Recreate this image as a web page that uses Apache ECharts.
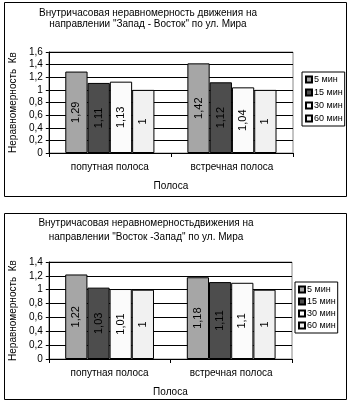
<!DOCTYPE html>
<html><head><meta charset="utf-8">
<script src="https://cdn.jsdelivr.net/npm/echarts@6/dist/echarts.min.js"></script>
<style>html,body{margin:0;padding:0;background:#fff}#c{width:350px;height:406px}</style>
</head><body><div id="c"></div>
<script>
const categories = ['попутная полоса', 'встречная полоса'];
const seriesNames = ['5 мин', '15 мин', '30 мин', '60 мин'];
// Chart 1: Запад - Восток
const c1_5 = [1.29, 1.42];
const c1_15 = [1.11, 1.12];
const c1_30 = [1.13, 1.04];
const c1_60 = [1, 1];
// Chart 2: Восток - Запад
const c2_5 = [1.22, 1.18];
const c2_15 = [1.03, 1.11];
const c2_30 = [1.01, 1.1];
const c2_60 = [1, 1];
const yTicks1 = {min: 0, max: 1.6, interval: 0.2};
const yTicks2 = {min: 0, max: 1.4, interval: 0.2};

const colors = ['#a6a6a6', '#4d4d4d', '#fbfbfb', '#f1f1f1'];
const FONT = 'Liberation Sans, Arial, sans-serif';
const comma = v => String(+(+v).toFixed(2)).replace('.', ',');

function mkSeries(dataArr, gi) {
  return dataArr.map((d, i) => ({
    name: seriesNames[i], type: 'bar', xAxisIndex: gi, yAxisIndex: gi, data: d,
    barGap: '0%', barCategoryGap: '27%',
    itemStyle: {color: colors[i], borderColor: '#000', borderWidth: 1},
    label: {show: true, position: 'inside', rotate: 90, color: '#000', fontSize: 11, fontFamily: FONT,
      formatter: p => comma(p.value)},
    emphasis: {disabled: true}, animation: false
  }));
}
function mkX(gi) {
  return {type: 'category', gridIndex: gi, data: categories,
    axisLine: {lineStyle: {color: '#000'}}, axisTick: {show: true, length: 4, lineStyle: {color: '#000'}},
    axisLabel: {color: '#000', fontSize: 10, fontFamily: FONT, margin: 9},
    name: 'Полоса', nameLocation: 'middle', nameGap: 28,
    nameTextStyle: {color: '#000', fontSize: 10, fontFamily: FONT}};
}
function mkY(gi, t) {
  return {type: 'value', gridIndex: gi, min: t.min, max: t.max, interval: t.interval,
    axisLine: {show: true, lineStyle: {color: '#000'}},
    axisTick: {show: true, length: 3, lineStyle: {color: '#000'}},
    splitLine: {lineStyle: {color: '#000', width: 1}},
    axisLabel: {color: '#000', fontSize: 10, fontFamily: FONT, margin: 6, formatter: v => comma(v)},
    name: 'Неравномерность  Кв', nameLocation: 'middle', nameGap: 26,
    nameTextStyle: {color: '#000', fontSize: 10, fontFamily: FONT}};
}
function mkLegend(left, top, gap) {
  return {orient: 'vertical', left: left, top: top, data: seriesNames, icon: 'rect',
    itemWidth: 6, itemHeight: 6, itemGap: gap, padding: [3, 2, 3, 3],
    borderColor: '#000', borderWidth: 1, backgroundColor: '#fff',
    textStyle: {color: '#000', fontSize: 9, fontFamily: FONT, padding: [0, 0, 0, -3]}};
}
function txt(t, x, y) {
  return {type: 'text', style: {text: t, x: x, y: y, textAlign: 'center', textVerticalAlign: 'middle',
    font: '10px ' + FONT, fill: '#000'}};
}

const option = {
  animation: false,
  grid: [
    {left: 47, top: 52, width: 246, height: 101, show: true, borderColor: '#888', borderWidth: 1},
    {left: 47, top: 262, width: 245, height: 97, show: true, borderColor: '#888', borderWidth: 1}
  ],
  xAxis: [mkX(0), mkX(1)],
  yAxis: [mkY(0, yTicks1), mkY(1, yTicks2)],
  legend: [mkLegend(302, 72, 4), mkLegend(295, 282, 3)],
  series: [...mkSeries([c1_5, c1_15, c1_30, c1_60], 0), ...mkSeries([c2_5, c2_15, c2_30, c2_60], 1)],
  graphic: [
    {type: 'rect', shape: {x: 4.5, y: 2.5, width: 342, height: 194}, style: {fill: null, stroke: '#000', lineWidth: 1}, silent: true},
    {type: 'rect', shape: {x: 4.5, y: 213.5, width: 342, height: 186}, style: {fill: null, stroke: '#000', lineWidth: 1}, silent: true},
    txt('Внутричасовая неравномерность движения на', 148, 13),
    txt('направлении "Запад - Восток" по ул. Мира', 148, 24),
    txt('Внутричасовая неравномерностьдвижения на', 146, 223),
    txt('направлении "Восток -Запад" по ул. Мира', 146, 237)
  ]
};
const chart = echarts.init(document.getElementById('c'), null, {renderer: 'canvas'});
chart.setOption(option);
</script></body></html>
